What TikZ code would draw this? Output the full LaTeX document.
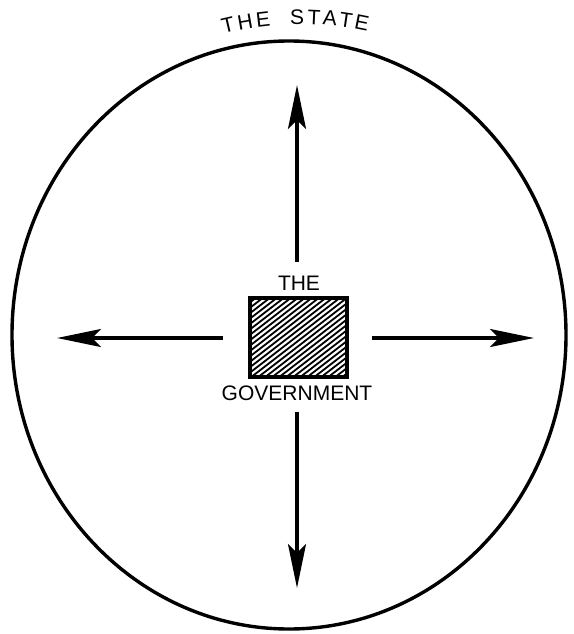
\documentclass[tikz,border=0pt]{standalone}
\usepackage{fontspec}
\setmainfont{Liberation Sans}
\usetikzlibrary{arrows.meta}
\tikzset{
  outline/.style={line width=3.4pt},
  govbox/.style={draw, line width=3.4pt, minimum width=97pt, minimum height=79pt, inner sep=0pt},
  lbl/.style={font=\fontsize{21}{23}\selectfont, inner sep=0pt},
  statelbl/.style={font=\fontsize{21}{23}\selectfont, inner sep=0pt},
  bigarrow/.style={line width=3.6pt, -{Stealth[length=44pt, width=18pt, inset=9pt]}},
  hatch/.style={line width=1.8pt}
}
\begin{document}
\begin{tikzpicture}[x=1pt, y=-1pt]
\useasboundingbox (0,0) rectangle (573,634);
% state outline
\draw[outline] (289,335) ellipse [x radius=277, y radius=294];
% state label along arc
\foreach \ch/\xx in {T/228, H/245, E/263, S/297, T/314, A/330, T/346, E/362}{
  \pgfmathsetmacro{\ang}{asin((\xx-300)/318)}
  \pgfmathsetmacro{\yy}{335-318*cos(\ang)}
  \node[statelbl, rotate=-\ang] at (\xx,\yy) {\ch};
}
% government box
\node[govbox] (gov) at (298.5,337.5) {};
\begin{scope}
  \clip (gov.south west) rectangle (gov.north east);
  \foreach \k in {-112,-105,...,105}{
    \draw[hatch] (250+\k,378) -- (355+\k,297);
  }
\end{scope}
\node[govbox] at (298.5,337.5) {};
\node[lbl, anchor=base] (the) at (299,290) {THE};
\node[lbl, anchor=base] (govt) at (297,400) {GOVERNMENT};
% arrow end points
\coordinate (lS) at (223,338);
\coordinate (lE) at (57,338);
\coordinate (rS) at (372,338);
\coordinate (rE) at (534,338);
\coordinate (uS) at (297,262);
\coordinate (uE) at (297,85);
\coordinate (dS) at (297,412);
\coordinate (dE) at (297,588);
\draw[bigarrow] (lS) -- (lE);
\draw[bigarrow] (rS) -- (rE);
\draw[bigarrow] (uS) -- (uE);
\draw[bigarrow] (dS) -- (dE);
\end{tikzpicture}
\end{document}
